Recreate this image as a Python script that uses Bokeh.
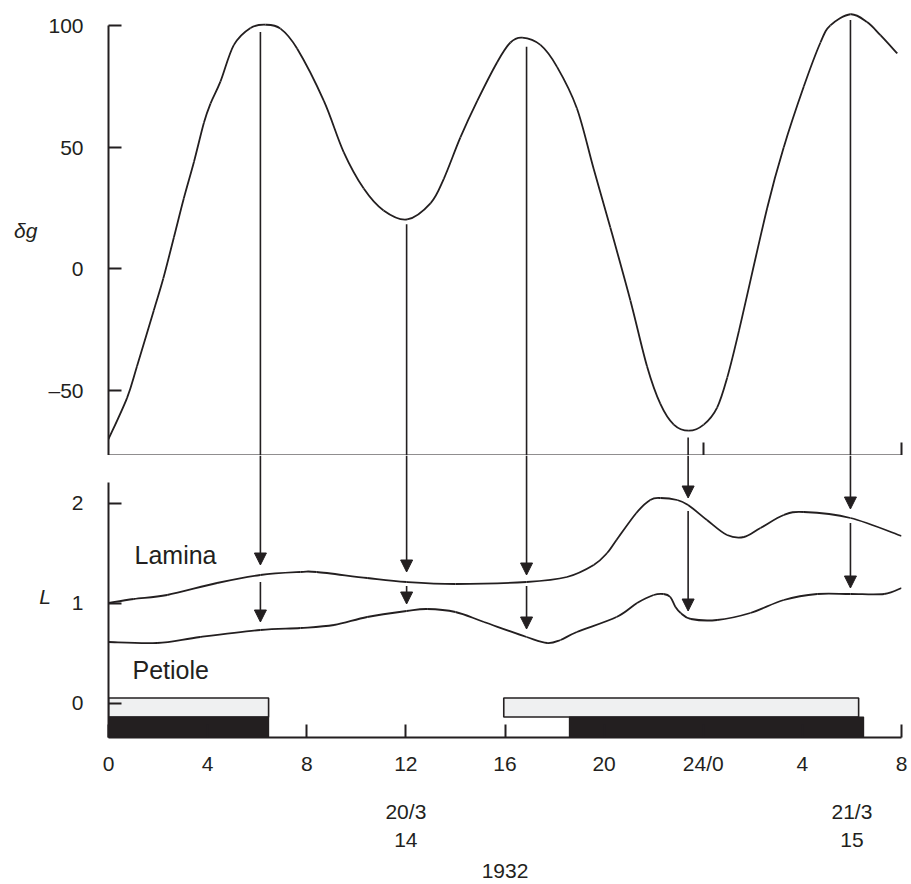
from bokeh.plotting import figure
from bokeh.models import Range1d, FixedTicker, LinearAxis, Label, Arrow, NormalHead, ColumnDataSource
from bokeh.layouts import column
from bokeh.embed import file_html
from bokeh.resources import INLINE

# ---------------- data ----------------
hours_dg = [0, 0.75, 1.15, 1.83, 2.21, 2.64, 3.04, 3.45, 3.85, 4.12, 4.52, 5.06, 5.73, 6.33,
            6.94, 7.61, 8.69, 9.49, 10.3, 11.1, 12.05, 13.0, 13.53, 14.2, 14.88, 15.69, 16.22,
            16.69, 17.43, 18.1, 18.9, 19.58, 20.25, 21.06, 21.73, 22.27, 22.81, 23.42, 24.02,
            24.56, 24.97, 25.44, 26.58, 27.25, 28.06, 28.73, 29.13, 29.94, 30.61, 31.15, 31.83]
delta_g = [-70, -53, -40, -17, -4, 13, 29, 44, 60, 68, 77, 92, 99, 100.3,
           98.7, 90.5, 69, 48, 33, 24, 20.3, 27, 37, 54, 69, 85, 93,
           95, 92, 83, 66, 41, 17, -13, -40, -55.5, -64, -66.5, -64,
           -57, -44.6, -25.5, 25, 50, 75, 93, 100, 104.6, 101.4, 96, 88.5]

hours_lamina = [0, 1.02, 2.37, 4.38, 6.13, 7.75, 8.4, 10.44, 12.03, 14.0, 16.87, 18.5, 19.58,
                20.12, 20.5, 21.3, 21.86, 22.28, 22.95, 23.39, 24.15, 24.96, 25.64, 26.31,
                27.25, 28.06, 29.94, 32.0]
lamina = [1.00, 1.04, 1.08, 1.20, 1.28, 1.31, 1.31, 1.25, 1.21, 1.19, 1.21, 1.26, 1.38,
          1.50, 1.63, 1.90, 2.03, 2.05, 2.03, 1.98, 1.83, 1.68, 1.66, 1.75,
          1.88, 1.91, 1.85, 1.67]

hours_petiole = [0, 1.96, 3.7, 6.13, 7.75, 9.1, 10.44, 12.03, 12.86, 14.0, 15.15, 16.87, 17.7,
                 18.24, 18.9, 20.5, 21.33, 22.0, 22.4, 22.67, 22.88, 23.09, 23.5, 24.56, 25.9,
                 27.25, 28.6, 29.94, 31.3, 32.0]
petiole = [0.61, 0.60, 0.66, 0.73, 0.75, 0.78, 0.86, 0.92, 0.94, 0.91, 0.81, 0.66, 0.60,
           0.63, 0.71, 0.86, 1.00, 1.08, 1.09, 1.06, 0.96, 0.90, 0.84, 0.83, 0.90,
           1.03, 1.09, 1.09, 1.09, 1.15]

arrow_hours = [6.13, 12.03, 16.87, 23.39, 29.94]
arrow_dg_start = [97.3, 18.3, 91.2, -69.3, 102.2]
arrow_lamina_tip = [1.38, 1.31, 1.28, 2.05, 1.94]
arrow_petiole_start = [1.21, 1.17, 1.17, 1.92, 1.80]
arrow_petiole_tip = [0.81, 0.99, 0.74, 0.92, 1.15]

light_left = [0, 15.95]
light_right = [6.46, 30.27]
dark_left = [0, 18.6]
dark_right = [6.46, 30.47]

x_ticks = [0, 4, 8, 12, 16, 20, 24, 28, 32]
x_tick_labels = ["0", "4", "8", "12", "16", "20", "24/0", "4", "8"]
top_axis_ticks = [24, 32]
date_ticks = [12, 30]
date_labels = ["20/3\n14", "21/3\n15"]
year_label = "1932"
dg_ticks = [-50, 0, 50, 100]
dg_tick_labels = ["\u201350", "0", "50", "100"]
L_ticks = [0, 1, 2]
L_tick_labels = ["0", "1", "2"]

# ---------------- style ----------------
FONT = "Liberation Sans"
INK = "#231f20"
FS = "21px"

x_range = Range1d(0, 32)
dg_range = Range1d(-76.7, 108.2)
L_range = Range1d(-0.345, 2.475)


def style_axis(ax):
    ax.axis_line_color = INK
    ax.axis_line_width = 2
    ax.major_tick_line_color = INK
    ax.major_tick_line_width = 2
    ax.major_tick_in = 13
    ax.major_tick_out = 0
    ax.minor_tick_line_color = None
    ax.major_label_text_font = FONT
    ax.major_label_text_font_size = FS
    ax.major_label_text_color = INK
    ax.axis_label_text_font = FONT
    ax.axis_label_text_font_size = FS
    ax.axis_label_text_color = INK


def smooth_curve(p, xs, ys, **kw):
    """Draw a smooth (Catmull-Rom as cubic Bezier) curve through the read points."""
    n = len(xs)
    x0, y0, x1, y1, cx0, cy0, cx1, cy1 = [], [], [], [], [], [], [], []
    for i in range(n - 1):
        a = i - 1 if i > 0 else i
        d = i + 2 if i + 2 < n else i + 1
        x0.append(xs[i]); y0.append(ys[i])
        x1.append(xs[i + 1]); y1.append(ys[i + 1])
        cx0.append(xs[i] + (xs[i + 1] - xs[a]) / 6.0)
        cy0.append(ys[i] + (ys[i + 1] - ys[a]) / 6.0)
        cx1.append(xs[i + 1] - (xs[d] - xs[i]) / 6.0)
        cy1.append(ys[i + 1] - (ys[d] - ys[i]) / 6.0)
    p.bezier(x0=x0, y0=y0, x1=x1, y1=y1, cx0=cx0, cy0=cy0, cx1=cx1, cy1=cy1, **kw)


# ---------------- top panel ----------------
top = figure(frame_width=793, frame_height=450, x_range=x_range, y_range=dg_range,
             output_backend="svg", toolbar_location=None,
             min_border_left=108, min_border_right=10, min_border_top=5, min_border_bottom=0)
top.outline_line_color = None
top.grid.visible = False

ya = top.yaxis[0]
style_axis(ya)
ya.ticker = FixedTicker(ticks=dg_ticks)
ya.major_label_overrides = dict(zip(dg_ticks, dg_tick_labels))
ya.bounds = (dg_range.start, 100)
ya.major_label_standoff = 25
ya.axis_label = "\u03b4g"
ya.axis_label_orientation = "horizontal"
ya.axis_label_text_font_style = "italic"
ya.axis_label_standoff = 8

xa = top.xaxis[0]
style_axis(xa)
xa.ticker = FixedTicker(ticks=[], minor_ticks=top_axis_ticks)
xa.minor_tick_line_color = INK
xa.minor_tick_line_width = 2
xa.minor_tick_in = 13
xa.minor_tick_out = 0
xa.major_label_standoff = 0

smooth_curve(top, hours_dg, delta_g, line_color=INK, line_width=1.8)
top.segment(x0=arrow_hours, y0=arrow_dg_start, x1=arrow_hours,
            y1=[dg_range.start] * len(arrow_hours), line_color=INK, line_width=1.6)

# ---------------- bottom panel ----------------
bot = figure(frame_width=793, frame_height=282, x_range=x_range, y_range=L_range,
             output_backend="svg", toolbar_location=None,
             min_border_left=108, min_border_right=10, min_border_top=0, min_border_bottom=146)
bot.outline_line_color = None
bot.grid.visible = False

yb = bot.yaxis[0]
style_axis(yb)
yb.ticker = FixedTicker(ticks=L_ticks)
yb.major_label_overrides = dict(zip(L_ticks, L_tick_labels))
yb.bounds = (L_range.start, 2.21)
yb.major_label_standoff = 25
yb.axis_label = "L"
yb.axis_label_orientation = "horizontal"
yb.axis_label_text_font_style = "italic"
yb.axis_label_standoff = 18

xb = bot.xaxis[0]
style_axis(xb)
xb.ticker = FixedTicker(ticks=x_ticks)
xb.major_label_overrides = dict(zip(x_ticks, x_tick_labels))
xb.major_label_standoff = 14

xdate = LinearAxis(ticker=FixedTicker(ticks=date_ticks),
                   major_label_overrides=dict(zip(date_ticks, date_labels)),
                   axis_line_color=None, major_tick_line_color=None, minor_tick_line_color=None,
                   major_label_text_font=FONT, major_label_text_font_size=FS,
                   major_label_text_color=INK, major_label_text_line_height=1.23,
                   major_label_standoff=16,
                   axis_label=year_label, axis_label_text_font=FONT,
                   axis_label_text_font_size=FS, axis_label_text_font_style="normal",
                   axis_label_text_color=INK, axis_label_standoff=10)
bot.add_layout(xdate, "below")

# day/night bars
bot.quad(left=light_left, right=light_right, top=0.05, bottom=-0.14,
         fill_color="#eff0f1", line_color=INK, line_width=1.6)
bot.quad(left=dark_left, right=dark_right, top=-0.14, bottom=L_range.start,
         fill_color=INK, line_color=INK, line_width=1.2)

smooth_curve(bot, hours_lamina, lamina, line_color=INK, line_width=1.8)
smooth_curve(bot, hours_petiole, petiole, line_color=INK, line_width=1.8)

src1 = ColumnDataSource(dict(x=arrow_hours, y0=[L_range.end] * len(arrow_hours), y1=arrow_lamina_tip))
src2 = ColumnDataSource(dict(x=arrow_hours, y0=arrow_petiole_start, y1=arrow_petiole_tip))
for src in (src1, src2):
    bot.add_layout(Arrow(end=NormalHead(size=12, fill_color=INK, line_color=INK, line_width=1),
                         x_start="x", y_start="y0", x_end="x", y_end="y1", source=src,
                         line_color=INK, line_width=1.6))

bot.add_layout(Label(x=1.05, y=1.48, text="Lamina", text_font=FONT, text_font_size="25px",
                     text_color=INK, text_baseline="middle", text_align="left"))
bot.add_layout(Label(x=0.97, y=0.33, text="Petiole", text_font=FONT, text_font_size="25px",
                     text_color=INK, text_baseline="middle", text_align="left"))

layout = column(top, bot, spacing=0)
open("out.html", "w").write(file_html(layout, INLINE))
